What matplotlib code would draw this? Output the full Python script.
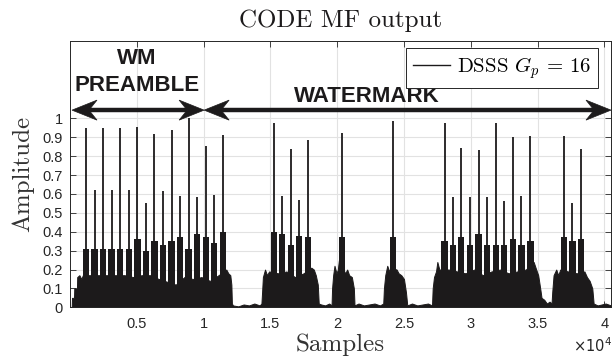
import matplotlib
matplotlib.use('Agg')
import matplotlib.pyplot as plt
from matplotlib.patches import Polygon
from matplotlib.lines import Line2D
from matplotlib.transforms import IdentityTransform

plt.rcParams['mathtext.fontset'] = 'cm'

# ---------------- data ----------------
# main correlation peaks: positions (samples) and heights
peak_x = [1200, 1840, 2480, 3120, 3760, 4400, 5040, 5680, 6320, 6960, 7600, 8240,
          8880, 9520, 10160, 10800, 11440,
          15260, 15890, 16530, 17160, 17810, 20380, 24200,
          28040, 28670, 29290, 29940, 30590, 31220, 31890, 32510, 33160, 33790, 34460,
          36960, 37610, 38260]
peak_h = [0.95, 0.62, 0.95, 0.62, 0.95, 0.62, 0.955, 0.55, 0.92, 0.615, 0.94, 0.59,
          1.0, 0.585, 0.853, 0.594, 0.912,
          0.977, 0.589, 0.836, 0.568, 0.885, 0.924, 0.987,
          0.977, 0.582, 0.841, 0.582, 0.832, 0.582, 0.977, 0.564, 0.90, 0.589, 0.906,
          0.906, 0.55, 0.836]
# level of the dense side-lobe block around every peak
lobe_h = [0.31, 0.31, 0.31, 0.31, 0.31, 0.31, 0.36, 0.30, 0.35, 0.33, 0.35, 0.37,
          0.31, 0.39, 0.37, 0.34, 0.40,
          0.40, 0.39, 0.33, 0.38, 0.37, 0.37, 0.37,
          0.35, 0.33, 0.37, 0.33, 0.39, 0.33, 0.33, 0.33, 0.36, 0.33, 0.35,
          0.37, 0.35, 0.36]
# noise floor (top of the dense fill between the lobes)
floor_x = [0, 130, 150, 300, 320, 520, 540, 700, 850, 960,
           1520, 2160, 2800, 3440, 4080, 4720, 5360, 6000, 6640, 7280, 7920, 8560,
           9200, 9840, 10480, 11120, 11700, 11850, 12000, 12080, 12120,
           12200, 12600, 13000, 13400, 13800, 14200, 14330,
           14380, 14440, 14600, 14750, 14900, 15575, 16210, 16845, 17485,
           18060, 18250, 18400, 18550, 18620,
           18800, 19100, 19400, 19580,
           19620, 19700, 19800, 19950, 20050, 20130, 20600, 20750, 20900, 21100, 21250, 21300,
           21600, 22000, 22400, 22800, 23200, 23450,
           23500, 23600, 23750, 23900, 24000, 24450, 24600, 24800, 25000, 25150, 25250,
           25600, 26000, 26400, 26800, 27100,
           27150, 27250, 27400, 27500, 27650, 27790,
           28355, 28980, 29615, 30265, 30905, 31555, 32200, 32835, 33475, 34125,
           34710, 34900, 35050, 35200, 35300, 35500, 35700, 35900, 36050,
           36100, 36200, 36400, 36550, 36700, 37285, 37935,
           38510, 38700, 38900, 39100, 39200,
           39500, 39800, 40100, 40500]
floor_y = [0.0, 0.0, 0.05, 0.05, 0.10, 0.10, 0.16, 0.17, 0.15, 0.17,
           0.17, 0.17, 0.17, 0.17, 0.17, 0.16, 0.17, 0.17, 0.15, 0.135, 0.12, 0.16,
           0.15, 0.16, 0.14, 0.17, 0.20, 0.18, 0.17, 0.12, 0.02,
           0.01, 0.005, 0.015, 0.01, 0.02, 0.01, 0.02,
           0.08, 0.16, 0.20, 0.17, 0.19, 0.18, 0.19, 0.16, 0.18,
           0.21, 0.20, 0.17, 0.12, 0.02,
           0.015, 0.01, 0.02, 0.01,
           0.10, 0.17, 0.22, 0.18, 0.20, 0.25, 0.18, 0.20, 0.17, 0.16, 0.10, 0.01,
           0.02, 0.01, 0.015, 0.02, 0.01, 0.02,
           0.10, 0.17, 0.22, 0.19, 0.21, 0.20, 0.18, 0.17, 0.15, 0.08, 0.01,
           0.02, 0.01, 0.015, 0.02, 0.01,
           0.10, 0.16, 0.19, 0.24, 0.20, 0.20,
           0.20, 0.19, 0.18, 0.20, 0.17, 0.19, 0.20, 0.18, 0.19, 0.20,
           0.24, 0.20, 0.17, 0.10, 0.05, 0.04, 0.02, 0.03, 0.02,
           0.08, 0.17, 0.20, 0.17, 0.20, 0.19, 0.18,
           0.19, 0.16, 0.14, 0.10, 0.02,
           0.01, 0.015, 0.02, 0.01]

x_ticks = [5000, 10000, 15000, 20000, 25000, 30000, 35000, 40000]
x_tick_labels = ['0.5', '1', '1.5', '2', '2.5', '3', '3.5', '4']
y_ticks = [0, 0.1, 0.2, 0.3, 0.4, 0.5, 0.6, 0.7, 0.8, 0.9, 1.0]
y_tick_labels = ['0', '0.1', '0.2', '0.3', '0.4', '0.5', '0.6', '0.7', '0.8', '0.9', '1']

# annotation arrows (samples) and their level
arrow_spans = [(150, 10040), (10040, 40500)]
arrow_y = 1.044

# ---------------- figure ----------------
W, H = 613, 357
ink = '#1c1a1b'
axc = '#262626'
fig = plt.figure(figsize=(W / 100, H / 100), dpi=100)
ax = fig.add_axes([70 / W, 1 - 307.3 / H, 541 / W, (307.3 - 41) / H])
ax.set_xlim(0, 40500)
ax.set_ylim(0, 1.41)

ax.fill_between(floor_x, floor_y, 0, color=ink, lw=0.7, edgecolor=ink, zorder=2)
ax.bar(peak_x, lobe_h, width=480, color=ink, lw=0, zorder=2)
ax.vlines(peak_x, 0, peak_h, color=ink, lw=1.3, zorder=3)

ax.set_xticks(x_ticks)
ax.set_xticklabels(x_tick_labels)
ax.set_yticks(y_ticks)
ax.set_yticklabels(y_tick_labels)
ax.grid(True, color='#e2e2e2', lw=0.8)
ax.set_axisbelow(True)
ax.tick_params(direction='in', top=True, right=True, length=4, width=0.6,
               color=axc, labelcolor=axc, labelsize=10.5)
ax.tick_params(axis='x', pad=7)
ax.tick_params(axis='y', pad=5)
for lab in ax.get_xticklabels() + ax.get_yticklabels():
    lab.set_family('Liberation Sans')
for s in ax.spines.values():
    s.set_color(axc)
    s.set_linewidth(0.7)

# labels and title (Computer Modern)
fig.text(340.5 / W, 1 - 27 / H, 'CODE MF output', family='cmr10', fontsize=18,
         ha='center', va='baseline', color=ink)
fig.text(340.5 / W, 1 - 345 / H, 'Samples', family='cmr10', fontsize=18,
         ha='center', va='center', color='#333333')
fig.text(23 / W, 1 - 174 / H, 'Amplitude', family='cmr10', fontsize=18,
         ha='center', va='center', rotation=90, color='#333333')
fig.text(612 / W, 1 - 352 / H, r'$\times10^{4}$', fontsize=10.5, ha='right',
         va='baseline', color=axc, math_fontfamily='dejavusans')

# legend
handle = Line2D([], [], color=ink, lw=1.0)
leg = ax.legend([handle], [r'DSSS $G_p\,=\,16$'], loc='upper right',
                bbox_to_anchor=(598 / W, 1 - 48 / H), bbox_transform=fig.transFigure,
                prop={'family': 'cmr10', 'size': 15}, fancybox=False, framealpha=1,
                edgecolor=axc, handlelength=1.8, handletextpad=0.3, borderpad=0.35,
                borderaxespad=0)
leg.get_frame().set_linewidth(0.7)

# double arrows with notched (vback) heads, drawn in pixel space
L, Wh, N = 25, 10, 17   # head length, half width, notch position (px)
for x0, x1 in arrow_spans:
    p0 = ax.transData.transform((x0, arrow_y))
    p1 = ax.transData.transform((x1, arrow_y))
    fig.lines.append(Line2D([p0[0] + N, p1[0] - N], [p0[1], p1[1]], lw=3.2, color=ink,
                            transform=IdentityTransform(), solid_capstyle='butt'))
    for tip, d in [(p0, 1), (p1, -1)]:
        pts = [(tip[0], tip[1]), (tip[0] + d * L, tip[1] + Wh),
               (tip[0] + d * N, tip[1]), (tip[0] + d * L, tip[1] - Wh)]
        fig.patches.append(Polygon(pts, closed=True, facecolor=ink, edgecolor=ink,
                                   lw=0.5, transform=IdentityTransform()))

ax.text(5020, 1.315, 'WM', family='Liberation Sans', weight='bold', fontsize=16,
        ha='center', va='center', color=ink)
ax.text(5020, 1.177, 'PREAMBLE', family='Liberation Sans', weight='bold', fontsize=16,
        ha='center', va='center', color=ink)
ax.text(22250, 1.114, 'WATERMARK', family='Liberation Sans', weight='bold', fontsize=16,
        ha='center', va='center', color=ink)

fig.savefig('out.png', dpi=100)
